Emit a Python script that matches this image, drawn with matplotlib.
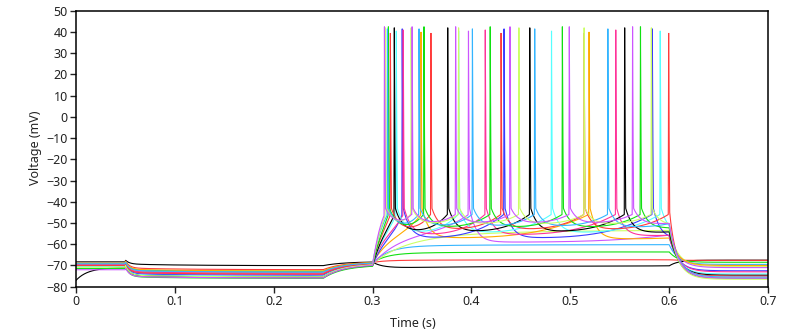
import numpy as np
import matplotlib
matplotlib.use("Agg")
import matplotlib.pyplot as plt

# ---------------------------------------------------------------------------
# Current-clamp sweeps: resting period, small hyperpolarising pulse
# (0.05-0.25 s), then a 0.3-0.6 s depolarising step of increasing amplitude.
# ---------------------------------------------------------------------------

# colour of each sweep (the 10-colour palette repeats after sweep 9)
sweep_colors = ["#000000", "#ff3b3b", "#11e011", "#33b5ff", "#ccff66",
                "#cc55ff", "#ffaa00", "#3b3bff", "#ff3399", "#55ffff",
                "#000000", "#ff3b3b", "#11e011", "#33b5ff", "#ccff66",
                "#cc55ff"]

# action-potential times (s) during the step, per sweep
spike_times = [
    [], [], [], [], [],
    [0.397],
    [0.349, 0.519],
    [0.330, 0.433, 0.583],
    [0.331, 0.414, 0.546],
    [0.324, 0.387, 0.481, 0.591],
    [0.322, 0.376, 0.459, 0.555],
    [0.318, 0.359, 0.430, 0.514, 0.5995],
    [0.316, 0.352, 0.419, 0.492, 0.571],
    [0.315, 0.347, 0.401, 0.464, 0.538],
    [0.313, 0.339, 0.387, 0.448, 0.514, 0.582],
    [0.312, 0.340, 0.384, 0.439, 0.499, 0.563],
]

# membrane potential landmarks (mV)
start_mv = [-68.3, -68.6, -69.0, -68.8, -69.4, -69.8, -68.9, -70.2,
            -69.6, -70.6, -77.0, -70.0, -71.4, -69.2, -70.8, -72.0]
rest_mv = [-68.3, -68.6, -69.0, -68.8, -69.4, -69.8, -68.9, -70.2,
           -69.6, -70.6, -71.0, -70.0, -71.4, -69.2, -70.8, -72.0]
pulse_mv = [-69.3, -71.2, -72.0, -72.6, -73.0, -73.5, -71.8, -73.9,
            -72.9, -74.3, -74.7, -73.3, -75.3, -72.3, -74.6, -75.1]
step_start_mv = [-68.4, -68.6, -68.8, -69.0, -69.2, -69.4, -68.7, -69.6,
                 -69.0, -69.8, -70.2, -69.3, -70.4, -68.9, -69.7, -70.0]
# subthreshold plateau at start / end of the step (sweeps 0-4)
plateau_mv = [-71.3, -67.6, -64.2, -60.8, -56.5]
plateau_end_mv = [-70.2, -67.3, -63.6, -60.2, -53.5]
# charging asymptote for spiking sweeps (sweeps 5-15)
drive_mv = [-53.0, -50.0, -48.0, -47.0, -45.0, -44.0, -42.0, -40.0,
            -38.0, -36.0, -34.0]
# deepest after-hyperpolarisation between spikes (sweeps 5-15)
trough_mv = [-58.5, -57.0, -57.0, -55.5, -54.5, -54.0, -53.0, -52.0,
             -51.5, -50.5, -50.0]
spike_peak_mv = [40.5, 40.0, 41.5, 41.0, 40.5, 42.0, 39.5, 42.5,
                 41.5, 42.0, 42.5]
# potential reached after the step ends
post_mv = [-67.5, -67.6, -68.5, -69.5, -70.5, -71.0, -70.0, -72.5,
           -73.0, -74.0, -74.6, -75.0, -76.0, -75.5, -76.5, -76.0]
tau_on_ms = [10, 12, 14, 16, 35, 30, 24, 20, 18, 16, 15, 14, 13, 12, 12, 11]

V_THR = -46.0      # take-off potential
V_REPOL = -43.0    # end of spike repolarisation
dt = 2e-5
t = np.arange(0.0, 0.7 + dt, dt)


def step_response(i, tt):
    """Membrane potential during the depolarising step (t >= 0.3)."""
    v0 = step_start_mv[i]
    tau = tau_on_ms[i] / 1000.0
    s = tt - 0.3
    if i < 5:
        k = i
        v = v0 + (plateau_mv[k] - v0) * (1 - np.exp(-s / tau))
        v += (plateau_end_mv[k] - plateau_mv[k]) * \
            (1 - np.exp(-s / 0.12)) / (1 - np.exp(-0.3 / 0.12))
        return v
    k = i - 5
    spikes = spike_times[i]
    v = np.empty_like(tt)
    # approach to the first spike
    t1 = spikes[0]
    T1 = t1 - 0.3
    vc_end = v0 + (drive_mv[k] - v0) * (1 - np.exp(-T1 / tau))
    m = tt < t1 - 0.0004
    vc = v0 + (drive_mv[k] - v0) * (1 - np.exp(-s[m] / tau))
    v[m] = vc + (V_THR - vc_end) * (s[m] / T1) ** 4
    # spikes and inter-spike trajectories
    isis = np.diff(spikes).tolist()
    if len(spikes) > 1:
        isis.append(isis[-1] * 1.2)
    else:
        isis.append(0.30)
    for j, ts in enumerate(spikes):
        rise = (tt >= ts - 0.0004) & (tt < ts)
        v[rise] = V_THR + (spike_peak_mv[k] - V_THR) * \
            (tt[rise] - (ts - 0.0004)) / 0.0004
        fall = (tt >= ts) & (tt < ts + 0.0010)
        f = (tt[fall] - ts) / 0.0010
        v[fall] = spike_peak_mv[k] + (V_REPOL - spike_peak_mv[k]) * f ** 0.8
        t_next = spikes[j + 1] - 0.0004 if j + 1 < len(spikes) else 10.0
        seg = (tt >= ts + 0.0010) & (tt < t_next)
        d = tt[seg] - (ts + 0.0010)
        isi = isis[j] - 0.0014
        tr = trough_mv[k] - (0.0 if j + 1 < len(spikes) else 0.5)
        v[seg] = tr + (V_REPOL - tr) * np.exp(-d / 0.007) + \
            (V_THR - tr) * np.clip(d / isi, 0, None) ** 3.5
    return v


def build_trace(i):
    v = np.empty_like(t)
    m = t < 0.05
    v[m] = rest_mv[i] + (start_mv[i] - rest_mv[i]) * np.exp(-t[m] / 0.012)
    m = (t >= 0.05) & (t < 0.25)
    d = t[m] - 0.05
    v[m] = pulse_mv[i] - 0.8 * (1 - np.exp(-d / 0.06)) + \
        (rest_mv[i] + 0.8 - pulse_mv[i]) * np.exp(-d / 0.004)
    pulse_end = pulse_mv[i] - 0.8 * (1 - np.exp(-0.2 / 0.06))
    m = (t >= 0.25) & (t < 0.3)
    d = t[m] - 0.25
    v[m] = pulse_end + (step_start_mv[i] - pulse_end) * \
        (1 - np.exp(-d / 0.02)) / (1 - np.exp(-0.05 / 0.02))
    m = t >= 0.3
    vs = step_response(i, t[m])
    after = t[m] > 0.6
    decay = np.exp(-(t[m][after] - 0.6) / 0.009)
    vs[after] = post_mv[i] + (vs[after] - post_mv[i]) * decay
    v[m] = vs
    return v


plt.rcParams['font.family'] = ['Noto Sans', 'DejaVu Sans']
fig = plt.figure(figsize=(7.92, 3.36), dpi=100)
ax = fig.add_axes([0.0960, 0.1467, 0.8737, 0.8215])

for i, c in enumerate(sweep_colors):
    ax.plot(t, build_trace(i), color=c, lw=0.8, solid_joinstyle='miter')

ax.set_xlim(0, 0.7)
ax.set_ylim(-80, 50)
ax.set_xticks(np.arange(0, 0.71, 0.1))
ax.set_xticklabels(["0", "0.1", "0.2", "0.3", "0.4", "0.5", "0.6", "0.7"])
ax.set_yticks(np.arange(-80, 51, 10))
ax.tick_params(direction='out', length=4, width=1, labelsize=9,
               colors='#222222', pad=2)
for sp in ax.spines.values():
    sp.set_linewidth(1.1)
ax.set_xlabel("Time (s)", fontsize=9, color='#222222')
ax.set_ylabel("Voltage (mV)", fontsize=9, color='#222222')
ax.xaxis.set_label_coords(0.487, -0.108)
ax.yaxis.set_label_coords(-0.049, 0.505)

fig.savefig("out.png", dpi=100)
